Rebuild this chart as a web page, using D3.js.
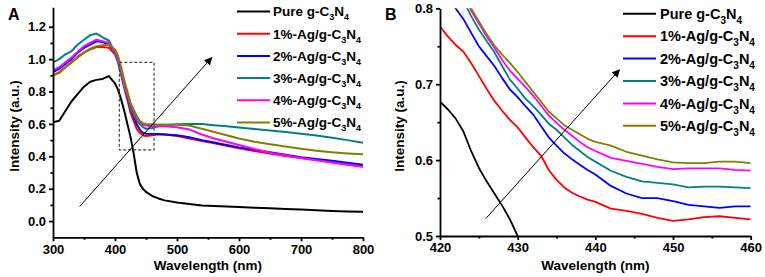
<!DOCTYPE html>
<html lang="en">
<head>
<meta charset="UTF-8" />
<title>Ag/g-C3N4 spectra</title>
<script src="https://d3js.org/d3.v7.min.js"></script>
<style>
  html, body { margin: 0; padding: 0; background: #fff; }
  svg { display: block; font-family: "Liberation Sans", Arial, sans-serif; font-weight: bold; }
  .axis path, .axis line { stroke: #000; stroke-width: 1.8; }
  .axis text { font-size: 13px; font-weight: bold; fill: #000; font-family: "Liberation Sans", Arial, sans-serif; }
</style>
</head>
<body>
<svg width="765" height="277"></svg>
<script>
// series names (subscripts handled when drawing)
const seriesNames = ["Pure g-C3N4", "1%-Ag/g-C3N4", "2%-Ag/g-C3N4", "3%-Ag/g-C3N4", "4%-Ag/g-C3N4", "5%-Ag/g-C3N4"];
const seriesColors = ["#000000", "#ff0000", "#0000ff", "#008080", "#ff00ff", "#808000"];

// panel A: full spectrum
const waveA = [300,310,320,330,340,350,360,370,380,390,400,405,410,415,420,425,430,435,440,445,450,460,470,480,500,520,540,560,580,600,625,650,675,700,725,750,775,800];
const pureA = [.61,.62,.68,.74,.785,.83,.86,.872,.878,.895,.85,.81,.75,.68,.6,.52,.42,.3,.23,.2,.18,.155,.14,.128,.115,.105,.097,.093,.09,.087,.083,.079,.075,.071,.067,.063,.06,.057];
const ag1A = [.9,.915,.95,.98,1.015,1.04,1.06,1.075,1.075,1.07,1.03,.98,.9,.82,.75,.67,.62,.57,.545,.53,.525,.53,.535,.535,.525,.51,.495,.48,.465,.45,.433,.418,.402,.39,.377,.364,.35,.337];
const ag2A = [.92,.94,.97,1.0,1.04,1.07,1.09,1.11,1.105,1.09,1.05,1.0,.92,.84,.77,.7,.65,.6,.565,.545,.54,.538,.538,.535,.53,.518,.5,.485,.47,.455,.44,.425,.41,.395,.383,.372,.36,.348];
const ag3A = [.98,1.0,1.03,1.05,1.09,1.12,1.148,1.158,1.135,1.115,1.04,.98,.91,.83,.78,.7,.66,.62,.6,.58,.57,.575,.585,.592,.598,.6,.6,.592,.585,.578,.568,.56,.55,.54,.528,.515,.5,.484];
const ag4A = [.93,.95,.98,1.01,1.045,1.08,1.1,1.12,1.11,1.1,1.05,1.0,.93,.85,.78,.72,.68,.64,.61,.595,.59,.585,.585,.585,.58,.565,.535,.51,.49,.47,.445,.422,.405,.39,.376,.362,.348,.335];
const ag5A = [.9,.92,.95,.98,1.01,1.04,1.065,1.08,1.085,1.09,1.06,1.02,.95,.87,.8,.73,.69,.65,.62,.605,.6,.598,.597,.597,.595,.59,.57,.55,.53,.51,.49,.475,.46,.447,.435,.425,.418,.412];

// panel B: zoom 420-460 nm
const waveB = [420,421,422,423,424,425,426,427,428,429,430,431,432,433,434,435,436,437,438,439,440,442,444,446,448,450,452,454,456,458,460];
const pureB = [.677,.667,.655,.638,.612,.59,.572,.556,.54,.522,.5,.478,.455,null,null,null,null,null,null,null,null,null,null,null,null,null,null,null,null,null,null];
const ag1B = [.776,.763,.752,.743,.728,.711,.694,.678,.665,.653,.643,.63,.617,.606,.587,.574,.564,.557,.552,.548,.545,.536,.533,.529,.524,.52,.522,.525,.526,.524,.522];
const ag2B = [.85,.82,.8,.786,.768,.75,.737,.724,.708,.693,.683,.671,.66,.645,.63,.619,.609,.601,.594,.587,.581,.566,.556,.55,.55,.546,.541,.539,.537,.539,.539];
const ag3B = [.88,.86,.835,.81,.79,.772,.757,.742,.724,.706,.694,.681,.671,.66,.648,.64,.63,.62,.612,.604,.598,.586,.578,.572,.57,.568,.564,.565,.565,.564,.563];
const ag4B = [.9,.87,.845,.82,.797,.78,.763,.748,.732,.718,.707,.696,.685,.672,.659,.649,.64,.632,.624,.617,.612,.603,.599,.595,.591,.588,.589,.589,.589,.587,.586];
const ag5B = [.91,.88,.855,.825,.8,.783,.766,.751,.739,.728,.716,.703,.69,.677,.664,.655,.646,.64,.634,.628,.624,.619,.611,.606,.601,.597,.596,.596,.598,.598,.596];

const svg = d3.select("svg");

svg.append("defs").append("marker")
  .attr("id", "arrow")
  .attr("viewBox", "0 0 10 10")
  .attr("refX", 9).attr("refY", 5)
  .attr("markerWidth", 8).attr("markerHeight", 8)
  .attr("markerUnits", "userSpaceOnUse")
  .attr("orient", "auto")
  .append("path").attr("d", "M0,0L10,5L0,10z").attr("fill", "#000");

function legendText(sel, name, size) {
  // "…C3N4" -> C with subscript 3, N with subscript 4
  const sub = Math.round(size * 0.68), shift = Math.round(size * 0.32);
  sel.append("tspan").text(name.slice(0, -3));
  sel.append("tspan").attr("dy", shift).attr("font-size", sub).text("3");
  sel.append("tspan").attr("dy", -shift).text("N");
  sel.append("tspan").attr("dy", shift).attr("font-size", sub).text("4");
}

function drawPanel(p) {
  const x = d3.scaleLinear().domain(p.xDomain).range(p.xRange);
  const y = d3.scaleLinear().domain(p.yDomain).range(p.yRange);
  const g = svg.append("g");

  g.append("clipPath").attr("id", p.id + "-clip")
    .append("rect")
    .attr("x", p.xRange[0]).attr("y", p.yRange[1])
    .attr("width", p.xRange[1] - p.xRange[0]).attr("height", p.yRange[0] - p.yRange[1]);

  const line = d3.line()
    .defined(d => d[1] != null)
    .x(d => x(d[0])).y(d => y(d[1]));

  const curves = g.append("g").attr("clip-path", `url(#${p.id}-clip)`);
  p.series.forEach((vals, i) => {
    curves.append("path")
      .datum(p.wave.map((w, j) => [w, vals[j]]))
      .attr("fill", "none")
      .attr("stroke", seriesColors[i])
      .attr("stroke-width", p.lineWidth)
      .attr("stroke-linejoin", "round")
      .attr("d", line);
  });

  // minor ticks
  g.append("g").attr("class", "axis").attr("transform", `translate(0,${p.yRange[0]})`)
    .call(d3.axisBottom(x).tickValues(p.xMinor).tickSize(2.5).tickFormat(""))
    .call(a => a.select(".domain").remove());
  g.append("g").attr("class", "axis").attr("transform", `translate(${p.xRange[0]},0)`)
    .call(d3.axisLeft(y).tickValues(p.yMinor).tickSize(2.5).tickFormat(""))
    .call(a => a.select(".domain").remove());

  // major ticks
  g.append("g").attr("class", "axis").attr("transform", `translate(0,${p.yRange[0]})`)
    .call(d3.axisBottom(x).tickValues(p.xTicks).tickSize(4).tickSizeOuter(0).tickPadding(3).tickFormat(d3.format("d")));
  g.append("g").attr("class", "axis").attr("transform", `translate(${p.xRange[0]},0)`)
    .call(d3.axisLeft(y).tickValues(p.yTicks).tickSize(4).tickSizeOuter(0).tickPadding(3).tickFormat(d3.format(".1f")));

  // axis titles
  g.append("text")
    .attr("x", (p.xRange[0] + p.xRange[1]) / 2).attr("y", 270)
    .attr("text-anchor", "middle").attr("font-size", 13.5)
    .text("Wavelength (nm)");
  g.append("text")
    .attr("transform", `translate(${p.yLabelX},${p.yLabelY}) rotate(-90)`)
    .attr("text-anchor", "middle").attr("font-size", 13.5)
    .text("Intensity (a.u.)");

  // panel letter
  g.append("text").attr("x", p.letterX).attr("y", 20).attr("font-size", 16).text(p.letter);

  // extras: dashed box, arrow
  if (p.box) {
    g.append("rect")
      .attr("x", x(p.box[0])).attr("y", y(p.box[3]))
      .attr("width", x(p.box[1]) - x(p.box[0])).attr("height", y(p.box[2]) - y(p.box[3]))
      .attr("fill", "none").attr("stroke", "#444").attr("stroke-width", 1.2)
      .attr("stroke-dasharray", "3,2");
  }
  g.append("line")
    .attr("x1", x(p.arrow[0])).attr("y1", y(p.arrow[1]))
    .attr("x2", x(p.arrow[2])).attr("y2", y(p.arrow[3]))
    .attr("stroke", "#000").attr("stroke-width", 1)
    .attr("marker-end", "url(#arrow)");

  // legend
  const leg = g.append("g");
  seriesNames.forEach((name, i) => {
    const ry = p.legY + i * p.legStep;
    leg.append("line")
      .attr("x1", p.legX).attr("x2", p.legX + 33)
      .attr("y1", ry).attr("y2", ry)
      .attr("stroke", seriesColors[i]).attr("stroke-width", 2);
    const t = leg.append("text")
      .attr("x", p.legX + p.legGap).attr("y", ry + p.legSize * 0.36)
      .attr("font-size", p.legSize);
    legendText(t, name, p.legSize);
  });
}

drawPanel({
  id: "A", letter: "A", letterX: 8,
  xDomain: [300, 800], xRange: [53, 363],
  yDomain: [-0.1, 1.32], yRange: [237.3, 7.3],
  xTicks: [300, 400, 500, 600, 700, 800], xMinor: [350, 450, 550, 650, 750],
  yTicks: [0, 0.2, 0.4, 0.6, 0.8, 1.0, 1.2], yMinor: [0.1, 0.3, 0.5, 0.7, 0.9, 1.1],
  wave: waveA, series: [pureA, ag1A, ag2A, ag3A, ag4A, ag5A], lineWidth: 2,
  yLabelX: 19, yLabelY: 126,
  box: [407, 463, 0.44, 0.98],
  arrow: [343, 0.09, 556, 1.01],
  legX: 237, legY: 11.5, legStep: 22.2, legSize: 13.5, legGap: 36
});

drawPanel({
  id: "B", letter: "B", letterX: 385,
  xDomain: [420, 460], xRange: [440, 750.7],
  yDomain: [0.5, 0.8], yRange: [236, 8.3],
  xTicks: [420, 430, 440, 450, 460], xMinor: [425, 435, 445, 455],
  yTicks: [0.5, 0.6, 0.7, 0.8], yMinor: [0.55, 0.65, 0.75],
  wave: waveB, series: [pureB, ag1B, ag2B, ag3B, ag4B, ag5B], lineWidth: 1.8,
  yLabelX: 404, yLabelY: 126,
  box: null,
  arrow: [425.9, 0.523, 443.1, 0.719],
  legX: 623, legY: 13.8, legStep: 22.4, legSize: 14.5, legGap: 37
});
</script>
</body>
</html>
